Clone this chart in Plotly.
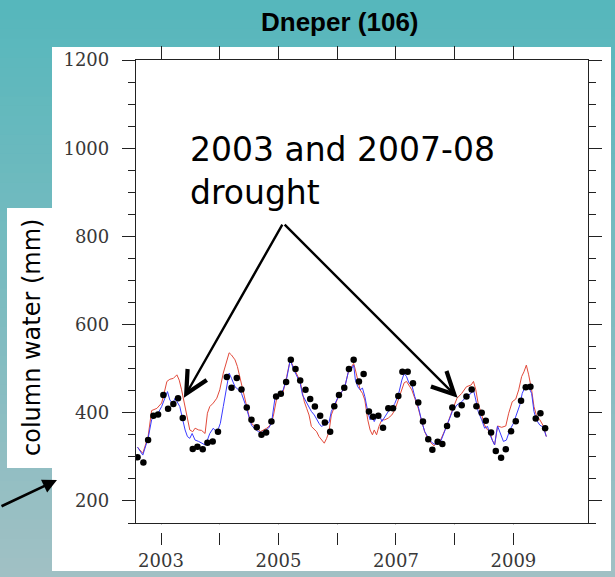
import plotly.graph_objects as go

# ---------------- data ----------------
DOT_T = [2002.60, 2002.70, 2002.78, 2002.87, 2002.95, 2003.04, 2003.12, 2003.21, 2003.29, 2003.37,
         2003.54, 2003.62, 2003.71, 2003.79, 2003.88, 2003.97,
         2004.12, 2004.20, 2004.29, 2004.37, 2004.46, 2004.54, 2004.63, 2004.71, 2004.79, 2004.88, 2004.96,
         2005.04, 2005.13, 2005.21, 2005.29, 2005.37, 2005.46, 2005.54, 2005.62, 2005.71, 2005.79, 2005.88, 2005.95,
         2006.03, 2006.12, 2006.20, 2006.28, 2006.37, 2006.45, 2006.54, 2006.61, 2006.70, 2006.78, 2006.87, 2006.95,
         2007.04, 2007.11, 2007.20, 2007.29, 2007.38, 2007.46, 2007.55, 2007.62, 2007.71, 2007.79, 2007.87, 2007.96,
         2008.04, 2008.12, 2008.20, 2008.29, 2008.37, 2008.46, 2008.53, 2008.62, 2008.70, 2008.79, 2008.87, 2008.96,
         2009.04, 2009.13, 2009.21, 2009.29, 2009.38, 2009.46, 2009.54]
DOT_V = [299, 287, 338, 393, 396, 440, 409, 420, 433, 388,
         318, 323, 317, 332, 335, 357,
         481, 457, 479, 453, 412, 384, 367, 350, 355, 380, 437,
         443, 470, 520, 499, 473, 452, 431, 414, 393, 378, 357, 415,
         440, 457, 499, 520, 471, 488, 403, 391, 393, 366, 410, 410,
         438, 493, 493, 467, 423, 380, 340, 316, 334, 329, 370, 412,
         396, 417, 437, 453, 415, 400, 382, 355, 313, 298, 317, 358,
         381, 427, 458, 459, 387, 399, 365]

RED_T = [2002.60, 2002.69, 2002.78, 2002.84, 2002.93, 2003.01, 2003.04, 2003.10, 2003.15, 2003.21,
         2003.27, 2003.31, 2003.35, 2003.41, 2003.45, 2003.49, 2003.54, 2003.58, 2003.64, 2003.69,
         2003.75, 2003.79, 2003.83, 2003.89, 2003.95, 2004.00, 2004.06, 2004.12, 2004.16, 2004.20,
         2004.26, 2004.30, 2004.34, 2004.40, 2004.46, 2004.52, 2004.57, 2004.63, 2004.69, 2004.74,
         2004.80, 2004.86, 2004.91, 2004.97, 2005.03, 2005.08, 2005.14, 2005.20, 2005.25, 2005.31,
         2005.37, 2005.41, 2005.44, 2005.48, 2005.52, 2005.56, 2005.61, 2005.65, 2005.69, 2005.73,
         2005.78, 2005.82, 2005.86, 2005.90, 2005.96, 2006.02, 2006.08, 2006.13, 2006.19, 2006.25,
         2006.28, 2006.31, 2006.35, 2006.39, 2006.43, 2006.47, 2006.52, 2006.56, 2006.60, 2006.63,
         2006.67, 2006.71, 2006.76, 2006.81, 2006.87, 2006.93, 2006.98, 2007.04, 2007.10, 2007.14,
         2007.18, 2007.22, 2007.27, 2007.32, 2007.38, 2007.44, 2007.49, 2007.54, 2007.60, 2007.65,
         2007.69, 2007.75, 2007.81, 2007.87, 2007.96, 2008.00, 2008.04, 2008.12, 2008.20, 2008.28,
         2008.32, 2008.36, 2008.40, 2008.46, 2008.51, 2008.56, 2008.60, 2008.64, 2008.68, 2008.73,
         2008.80, 2008.87, 2008.92, 2008.98, 2009.04, 2009.09, 2009.14, 2009.18, 2009.22, 2009.26,
         2009.31, 2009.35, 2009.39, 2009.45, 2009.51, 2009.56]
RED_V = [322, 308, 346, 405, 410, 422, 437, 471, 476, 478,
         486, 474, 452, 414, 384, 361, 357, 365, 361, 360,
         353, 399, 414, 422, 433, 452, 490, 520, 536, 531,
         520, 505, 482, 452, 414, 380, 372, 367, 357, 361,
         365, 372, 391, 433, 440, 448, 482, 520, 505, 486,
         471, 444, 425, 410, 395, 369, 361, 357, 346, 338,
         331, 342, 357, 395, 418, 437, 448, 459, 493, 505,
         512, 497, 471, 452, 444, 429, 384, 361, 350, 361,
         350, 369, 384, 384, 388, 395, 406, 429, 452, 468,
         471, 463, 452, 433, 410, 380, 357, 342, 331, 325,
         332, 335, 353, 372, 406, 418, 433, 444, 459, 463,
         471, 452, 421, 395, 372, 361, 357, 338, 327, 370,
         367, 370, 399, 425, 431, 452, 482, 493, 508, 486,
         452, 414, 395, 384, 370, 346]

BLUE_T = [2002.60, 2002.69, 2002.78, 2002.84, 2002.90, 2002.95, 2003.01, 2003.07, 2003.11, 2003.15,
          2003.20, 2003.24, 2003.28, 2003.32, 2003.37, 2003.41, 2003.45, 2003.49, 2003.53, 2003.58,
          2003.64, 2003.69, 2003.75, 2003.79, 2003.83, 2003.89, 2003.94, 2003.98, 2004.01, 2004.06,
          2004.12, 2004.16, 2004.20, 2004.26, 2004.32, 2004.37, 2004.43, 2004.49, 2004.54, 2004.60,
          2004.66, 2004.71, 2004.77, 2004.83, 2004.88, 2004.94, 2005.03, 2005.08, 2005.14, 2005.20,
          2005.25, 2005.31, 2005.37, 2005.41, 2005.44, 2005.48, 2005.52, 2005.56, 2005.61, 2005.65,
          2005.69, 2005.73, 2005.78, 2005.82, 2005.86, 2005.90, 2005.96, 2006.02, 2006.08, 2006.13,
          2006.19, 2006.25, 2006.28, 2006.31, 2006.35, 2006.39, 2006.43, 2006.47, 2006.52, 2006.56,
          2006.60, 2006.63, 2006.67, 2006.71, 2006.76, 2006.81, 2006.87, 2006.93, 2006.98, 2007.04,
          2007.10, 2007.14, 2007.18, 2007.22, 2007.27, 2007.32, 2007.38, 2007.44, 2007.49, 2007.54,
          2007.60, 2007.65, 2007.69, 2007.75, 2007.81, 2007.87, 2007.96, 2008.00, 2008.04, 2008.12,
          2008.20, 2008.28, 2008.32, 2008.36, 2008.40, 2008.46, 2008.51, 2008.56, 2008.60, 2008.64,
          2008.68, 2008.73, 2008.78, 2008.83, 2008.88, 2008.94, 2009.00, 2009.05, 2009.11, 2009.15,
          2009.20, 2009.25, 2009.31, 2009.35, 2009.39, 2009.45, 2009.51, 2009.56]
BLUE_V = [322, 304, 342, 384, 395, 399, 414, 433, 448, 429,
          421, 433, 425, 414, 384, 361, 346, 342, 353, 338,
          335, 331, 327, 338, 353, 365, 357, 365, 376, 414,
          459, 490, 478, 459, 452, 444, 421, 391, 372, 363,
          357, 355, 359, 365, 376, 433, 444, 452, 478, 520,
          501, 482, 467, 440, 433, 425, 414, 403, 395, 384,
          376, 369, 372, 376, 378, 403, 421, 437, 448, 459,
          493, 501, 508, 474, 459, 452, 456, 437, 403, 384,
          391, 380, 391, 399, 380, 391, 403, 410, 421, 440,
          474, 489, 482, 468, 463, 437, 414, 380, 357, 346,
          334, 329, 329, 331, 350, 372, 403, 410, 418, 425,
          437, 444, 452, 429, 403, 384, 365, 369, 350, 338,
          327, 370, 350, 335, 338, 361, 376, 395, 418, 444,
          459, 461, 444, 403, 384, 372, 367, 346]

YEAR_TICKS = [2003, 2004, 2005, 2006, 2007, 2008, 2009]
YEAR_TEXT = ["2003", "", "2005", "", "2007", "", "2009"]
Y_TICKS = [200, 400, 600, 800, 1000, 1200]

TITLE = "Dneper (106)"
Y_TITLE = "column water (mm)"
NOTE_1 = "2003 and 2007-08"
NOTE_2 = "drought"

# ---------------- figure ----------------
W, H = 615, 577
ML, MR, MT, MB = 136, 27, 60, 54
PW, PH = W - ML - MR, H - MT - MB


def px(xp):
    return (xp - ML) / PW


def py(yp):
    return (H - MB - yp) / PH


fig = go.Figure()
fig.add_trace(go.Scatter(x=RED_T, y=RED_V, mode="lines",
                         line=dict(color="#E24A3B", width=1), hoverinfo="skip", showlegend=False))
fig.add_trace(go.Scatter(x=BLUE_T, y=BLUE_V, mode="lines",
                         line=dict(color="#3A3AFF", width=1), hoverinfo="skip", showlegend=False))
fig.add_trace(go.Scatter(x=DOT_T, y=DOT_V, mode="markers",
                         marker=dict(color="black", size=6.5), hoverinfo="skip", showlegend=False))
fig.add_trace(go.Scatter(x=[], y=[], xaxis="x2", showlegend=False, hoverinfo="skip"))

shapes = []
# gradient background
N = 60
top = (86, 183, 188)
bot = (160, 192, 196)
for i in range(N):
    f = i / (N - 1)
    c = tuple(int(round(top[k] + (bot[k] - top[k]) * f)) for k in range(3))
    y1 = py(i * H / N)
    y0 = py((i + 1) * H / N + 1)
    shapes.append(dict(type="rect", xref="paper", yref="paper", x0=px(-5), x1=px(W + 5),
                       y0=y0, y1=y1, line=dict(width=0), fillcolor="rgb(%d,%d,%d)" % c, layer="below"))
# white panel
shapes.append(dict(type="rect", xref="paper", yref="paper", x0=px(52), x1=px(611), y0=py(571), y1=py(47),
                   line=dict(width=0), fillcolor="white", layer="below"))
# y label box
shapes.append(dict(type="rect", xref="paper", yref="paper", x0=px(7), x1=px(60), y0=py(468), y1=py(208),
                   line=dict(width=0), fillcolor="white", layer="below"))
# white gap that detaches the bottom year ticks from the axis line
shapes.append(dict(type="rect", xref="paper", yref="paper", x0=px(140), x1=px(584), y0=py(533), y1=py(524.3),
                   line=dict(width=0), fillcolor="white", layer="above"))

annotations = [
    dict(text="<b>" + TITLE + "</b>", xref="paper", yref="paper", x=px(340), y=py(22),
         xanchor="center", yanchor="middle", showarrow=False,
         font=dict(family="Liberation Sans, Arial", size=26, color="black")),
    dict(text=Y_TITLE, xref="paper", yref="paper", x=px(32), y=py(338), textangle=-90,
         xanchor="center", yanchor="middle", showarrow=False,
         font=dict(family="DejaVu Sans", size=24, color="black")),
    dict(text=NOTE_1, xref="paper", yref="paper", x=px(188), y=py(149), xanchor="left", yanchor="middle",
         align="left", showarrow=False,
         font=dict(family="DejaVu Sans", size=33, color="black")),
    dict(text=NOTE_2, xref="paper", yref="paper", x=px(188), y=py(192), xanchor="left", yanchor="middle",
         align="left", showarrow=False,
         font=dict(family="DejaVu Sans", size=33, color="black")),
    dict(text="", x=2003.39, y=434, ax=2005.08, ay=830, xref="x", yref="y", axref="x", ayref="y",
         showarrow=True, arrowhead=5, arrowsize=1.8, arrowwidth=2.4, arrowcolor="black"),
    dict(text="", x=2008.05, y=434, ax=2005.08, ay=830, xref="x", yref="y", axref="x", ayref="y",
         showarrow=True, arrowhead=5, arrowsize=1.8, arrowwidth=2.4, arrowcolor="black"),
    dict(text="", xref="paper", yref="paper", x=px(57), y=py(480), ax=-60, ay=27,
         showarrow=True, arrowhead=2, arrowsize=1.1, arrowwidth=2.6, arrowcolor="black"),
]

tickfont = dict(family="DejaVu Serif", size=18, color="#383838")

fig.update_layout(
    width=W, height=H, autosize=False,
    margin=dict(l=ML, r=MR, t=MT, b=MB, pad=0, autoexpand=False),
    paper_bgcolor="rgb(86,183,188)",
    plot_bgcolor="rgba(0,0,0,0)",
    shapes=shapes,
    annotations=annotations,
    xaxis=dict(range=[2002.574, 2010.27], tickmode="array", tickvals=YEAR_TICKS,
               ticktext=YEAR_TEXT, ticks="outside", ticklen=21, tickwidth=1.3,
               tickcolor="#222", showline=True, linecolor="#222", linewidth=1.3,
               mirror=True, showgrid=False, zeroline=False, tickfont=tickfont, automargin=False),
    xaxis2=dict(overlaying="x", side="top", matches="x", tickmode="array", tickvals=YEAR_TICKS,
                ticks="outside", ticklen=13, tickcolor="#222", tickwidth=1.3, automargin=False,
                showticklabels=False, showgrid=False, zeroline=False, showline=False),
    yaxis=dict(range=[150, 1200], tickmode="array", tickvals=Y_TICKS, ticks="outside", ticklen=13,
               tickcolor="#222", tickwidth=1.3, showline=True, linecolor="#222", linewidth=1.3,
               mirror="ticks", showgrid=False, zeroline=False, tickfont=tickfont, ticklabelstandoff=9,
               automargin=False,
               minor=dict(dtick=50, tick0=0, ticks="outside", ticklen=7, tickcolor="#222", tickwidth=1.3,
                          showgrid=False)),
)

fig.write_html("out.html", config={"displayModeBar": False},
               post_script="document.body.style.margin='0';document.body.style.overflow='hidden';")
